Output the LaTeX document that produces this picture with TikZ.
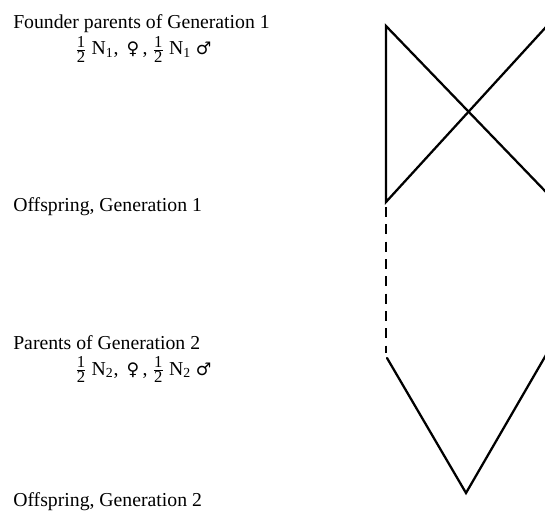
\documentclass[tikz,border=0pt]{standalone}
\usepackage{amsmath}
\usepackage{fontspec}
\setmainfont{Liberation Serif}
\newfontfamily\symfont{DejaVu Sans}
\usepackage{tikz}

\tikzset{
  lbl/.style={anchor=base west, inner sep=0pt, font=\fontsize{14.8}{18}\selectfont},
  ped/.style={line width=1.7pt, line cap=round},
  gapline/.style={ped, line cap=butt, dash pattern=on 7.5pt off 5.5pt}
}
\newcommand{\fracdig}[1]{\mbox{\fontsize{12.5}{12.5}\selectfont #1}}
\newcommand{\half}{$\frac{\fracdig{1}}{\fracdig{2}}$}
\newcommand{\sx}[1]{{\symfont\fontsize{13}{13}\selectfont #1}}

\begin{document}
\begin{tikzpicture}[x=0.75pt,y=0.75pt]
  \useasboundingbox (0,0) rectangle (545,511);
  % labels
  \node[lbl] (found) at (13,482) {Founder parents of Generation 1};
  \node[lbl] (foundn) at (75,456) {\half\ N\textsubscript{1},\ \,\sx{♀}\,,\ \half\ N\textsubscript{1}\ \sx{♂}};
  \node[lbl] (off1) at (13,300) {Offspring, Generation 1};
  \node[lbl] (par2) at (13,162) {Parents of Generation 2};
  \node[lbl] (par2n) at (75,136) {\half\ N\textsubscript{2},\ \,\sx{♀}\,,\ \half\ N\textsubscript{2}\ \sx{♂}};
  \node[lbl] (off2) at (13,5) {Offspring, Generation 2};
  % pedigree lines
  \coordinate (fem1) at (386,485);
  \coordinate (mal1) at (546,484);
  \coordinate (kid1) at (386,309);
  \coordinate (kid1b) at (546,319);
  \coordinate (gaptop) at (386,304);
  \coordinate (gapbot) at (386,158);
  \coordinate (fem2) at (387,153);
  \coordinate (kid2) at (466,18);
  \coordinate (mal2) at (546,156);
  \draw[ped] (mal1) -- (kid1) -- (fem1) -- (kid1b);
  \draw[gapline] (gaptop) -- (gapbot);
  \draw[ped] (fem2) -- (kid2) -- (mal2);
\end{tikzpicture}
\end{document}
